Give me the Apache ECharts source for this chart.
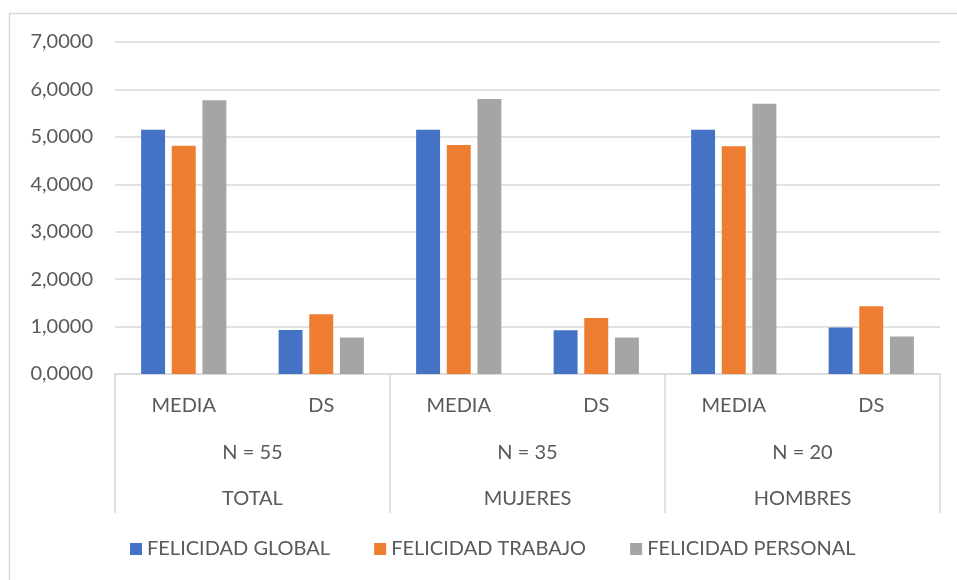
<!DOCTYPE html>
<html>
<head>
<meta charset="utf-8">
<style>
  html, body { margin: 0; padding: 0; background: #ffffff; }
  #chart { width: 957px; height: 580px; }
</style>
<script src="https://cdn.jsdelivr.net/npm/echarts@6/dist/echarts.min.js"></script>
</head>
<body>
<div id="chart"></div>
<script>
// Category levels: statistic / sample size / group
const statLabels = ['MEDIA', 'DS', 'MEDIA', 'DS', 'MEDIA', 'DS'];
const sampleLabels = ['N = 55', 'N = 35', 'N = 20'];
const groupLabels = ['TOTAL', 'MUJERES', 'HOMBRES'];

// Series values (mean and standard deviation for each group)
const seriesNames = ['FELICIDAD GLOBAL', 'FELICIDAD TRABAJO', 'FELICIDAD PERSONAL'];
const felicidadGlobal   = [5.15, 0.93, 5.15, 0.92, 5.15, 0.98];
const felicidadTrabajo  = [4.81, 1.26, 4.83, 1.18, 4.80, 1.43];
const felicidadPersonal = [5.77, 0.77, 5.80, 0.77, 5.70, 0.79];

const colors = ['#4472c4', '#ed7d31', '#a5a5a5'];
const textColor = '#595959';
const lineColor = '#d9d9d9';
const fontFamily = 'Lato, "Open Sans", sans-serif';
const fontSize = 20;

const chart = echarts.init(document.getElementById('chart'), null, { renderer: 'canvas' });

const values = [felicidadGlobal, felicidadTrabajo, felicidadPersonal];

chart.setOption({
  animation: false,
  backgroundColor: '#ffffff',
  color: colors,
  textStyle: { fontFamily: fontFamily },
  graphic: [{
    type: 'rect',
    silent: true,
    shape: { x: 9.5, y: 13.5, width: 1000, height: 1000 },
    style: { fill: 'none', stroke: lineColor, lineWidth: 1.5 }
  }],
  grid: { left: 115, right: 17, top: 42, bottom: 206, containLabel: false },
  legend: {
    left: 125,
    bottom: 16,
    itemWidth: 12,
    itemHeight: 12,
    itemGap: 44,
    icon: 'rect',
    textStyle: { color: textColor, fontSize: fontSize, fontFamily: fontFamily },
    data: seriesNames
  },
  xAxis: [
    {
      type: 'category',
      data: statLabels,
      position: 'bottom',
      axisLine: { show: true, lineStyle: { color: lineColor, width: 1.5 } },
      axisTick: { show: false },
      axisLabel: { color: textColor, fontSize: fontSize, fontFamily: fontFamily, margin: 22, interval: 0 },
      splitLine: { show: false }
    },
    {
      type: 'category',
      data: sampleLabels,
      position: 'bottom',
      axisLine: { show: false },
      axisTick: { show: false },
      axisLabel: { color: textColor, fontSize: fontSize, fontFamily: fontFamily, margin: 69, interval: 0 },
      splitLine: { show: false }
    },
    {
      type: 'category',
      data: groupLabels,
      position: 'bottom',
      axisLine: { show: false },
      axisTick: { show: true, length: 139, inside: false, lineStyle: { color: lineColor, width: 1.5 } },
      axisLabel: { color: textColor, fontSize: fontSize, fontFamily: fontFamily, margin: 115, interval: 0 },
      splitLine: { show: false }
    }
  ],
  yAxis: {
    type: 'value',
    min: 0,
    max: 7,
    interval: 1,
    axisLine: { show: false },
    axisTick: { show: false },
    axisLabel: {
      color: textColor,
      fontSize: fontSize,
      fontFamily: fontFamily,
      margin: 22,
      formatter: v => v.toFixed(4).replace('.', ',')
    },
    splitLine: { lineStyle: { color: lineColor, width: 1.5 } }
  },
  series: seriesNames.map((name, i) => ({
    name: name,
    type: 'bar',
    xAxisIndex: 0,
    data: values[i],
    barGap: '28%',
    barCategoryGap: '38%',
    itemStyle: { color: colors[i] }
  }))
});
</script>
</body>
</html>
